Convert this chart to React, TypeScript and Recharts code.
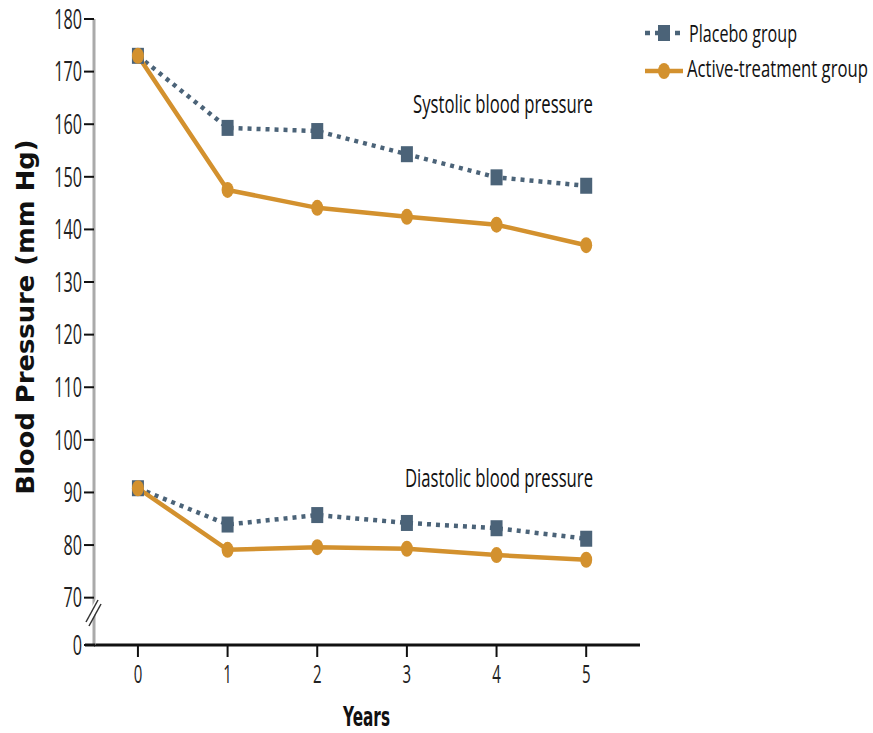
import { LineChart, Line, XAxis, YAxis } from 'recharts';

const years = [0, 1, 2, 3, 4, 5];
const placeboSystolic = [173, 159.3, 158.7, 154.3, 149.9, 148.3];
const activeSystolic = [173, 147.5, 144.1, 142.4, 140.9, 137.0];
const placeboDiastolic = [90.8, 83.9, 85.7, 84.2, 83.2, 81.2];
const activeDiastolic = [90.8, 79.1, 79.6, 79.3, 78.1, 77.2];
// bottom tick stands for the broken-axis "0"
const yTicks = [61, 70, 80, 90, 100, 110, 120, 130, 140, 150, 160, 170, 180];

const PLACEBO = '#4b6378';
const ACTIVE = '#d3912e';
const FONT = "'Open Sans', 'Liberation Sans', sans-serif";
const SQUEEZE = 0.62;

const data = years.map((year, i) => ({
  year,
  placeboSys: placeboSystolic[i],
  activeSys: activeSystolic[i],
  placeboDia: placeboDiastolic[i],
  activeDia: activeDiastolic[i],
}));

const SquareDot = (props: any) => {
  const { cx, cy, index } = props;
  return <rect key={`sq-${props.dataKey}-${index}`} x={cx - 6} y={cy - 8} width={12} height={16} fill={PLACEBO} />;
};

const RoundDot = (props: any) => {
  const { cx, cy, index } = props;
  return <ellipse key={`ci-${props.dataKey}-${index}`} cx={cx} cy={cy} rx={6} ry={8} fill={ACTIVE} />;
};

const YTick = ({ x, y, payload }: any) => (
  <g transform={`translate(${x},${y})`}>
    <text transform="scale(0.6,1)" textAnchor="end" dy="0.36em" fontSize={27} fontFamily={FONT} fill="#222">
      {payload.value === 61 ? '0' : payload.value}
    </text>
  </g>
);

const XTick = ({ x, y, payload }: any) => (
  <g transform={`translate(${x},${y})`}>
    <text transform="scale(0.6,1)" textAnchor="middle" dy={24} fontSize={25} fontFamily={FONT} fill="#222">
      {payload.value}
    </text>
  </g>
);

// narrow text: squeezed horizontally, then stretched to the measured width
const Narrow = ({ x, y, width, size, children }: any) => (
  <g transform={`translate(${x},${y}) scale(${SQUEEZE},1)`}>
    <text x={0} y={0} fontSize={size} fontFamily={FONT} textLength={width / SQUEEZE} lengthAdjust="spacingAndGlyphs" fill="#111">
      {children}
    </text>
  </g>
);

export default function App() {
  return (
    <div style={{ position: 'absolute', left: 0, top: 0, width: 873, height: 733, background: '#fff' }}>
      <LineChart width={873} height={733} data={data} margin={{ top: 19, right: 233, left: 34, bottom: 48 }}>
        <XAxis
          dataKey="year"
          type="number"
          domain={[-0.49, 5.6]}
          ticks={years}
          height={40}
          tickSize={12}
          tickMargin={2}
          tick={<XTick />}
          axisLine={{ stroke: '#111', strokeWidth: 3 }}
          tickLine={{ stroke: '#111', strokeWidth: 2 }}
        />
        <YAxis
          type="number"
          domain={[61, 180]}
          ticks={yTicks}
          width={60}
          tickSize={10}
          tickMargin={2}
          tick={<YTick />}
          axisLine={{ stroke: '#aaa', strokeWidth: 3 }}
          tickLine={{ stroke: '#111', strokeWidth: 2 }}
        />
        <Line dataKey="placeboSys" stroke={PLACEBO} strokeWidth={4.5} strokeDasharray="4 5" dot={SquareDot} activeDot={false} isAnimationActive={false} />
        <Line dataKey="placeboDia" stroke={PLACEBO} strokeWidth={4.5} strokeDasharray="4 5" dot={SquareDot} activeDot={false} isAnimationActive={false} />
        <Line dataKey="activeSys" stroke={ACTIVE} strokeWidth={4.5} dot={RoundDot} activeDot={false} isAnimationActive={false} />
        <Line dataKey="activeDia" stroke={ACTIVE} strokeWidth={4.5} dot={RoundDot} activeDot={false} isAnimationActive={false} />
      </LineChart>

      <svg width={873} height={733} style={{ position: 'absolute', left: 0, top: 0, pointerEvents: 'none' }}>
        {/* x axis runs a little left of the y axis */}
        <line x1={85} y1={645} x2={95} y2={645} stroke="#111" strokeWidth={3} />
        {/* axis break */}
        <line x1={86} y1={624} x2={99} y2={600} stroke="#fff" strokeWidth={6} />
        <line x1={86} y1={622} x2={98} y2={600} stroke="#333" strokeWidth={1.5} />
        <line x1={89} y1={626} x2={101} y2={604} stroke="#333" strokeWidth={1.5} />

        <text
          transform="translate(34,317) rotate(-90)"
          textAnchor="middle"
          fontSize={25}
          fontWeight="bold"
          fontFamily="'DejaVu Sans', sans-serif"
          textLength={355}
          lengthAdjust="spacingAndGlyphs"
          fill="#111"
        >
          Blood Pressure (mm Hg)
        </text>
        <g transform={`translate(343,726) scale(${SQUEEZE},1)`}>
          <text x={0} y={0} fontSize={27} fontWeight="bold" fontFamily="'DejaVu Sans', sans-serif" textLength={47 / SQUEEZE} lengthAdjust="spacingAndGlyphs" fill="#111">
            Years
          </text>
        </g>

        <Narrow x={413} y={113} width={180} size={25}>Systolic blood pressure</Narrow>
        <Narrow x={405} y={487} width={188} size={25}>Diastolic blood pressure</Narrow>

        {/* legend */}
        <line x1={645} y1={33} x2={684} y2={33} stroke={PLACEBO} strokeWidth={4.5} strokeDasharray="5 5" />
        <rect x={658} y={25} width={12} height={16} fill={PLACEBO} />
        <Narrow x={689} y={42} width={108} size={24}>Placebo group</Narrow>
        <line x1={645} y1={71} x2={683} y2={71} stroke={ACTIVE} strokeWidth={4.5} />
        <ellipse cx={664} cy={71} rx={6} ry={8} fill={ACTIVE} />
        <Narrow x={687} y={77} width={181} size={24}>Active-treatment group</Narrow>
      </svg>
    </div>
  );
}
